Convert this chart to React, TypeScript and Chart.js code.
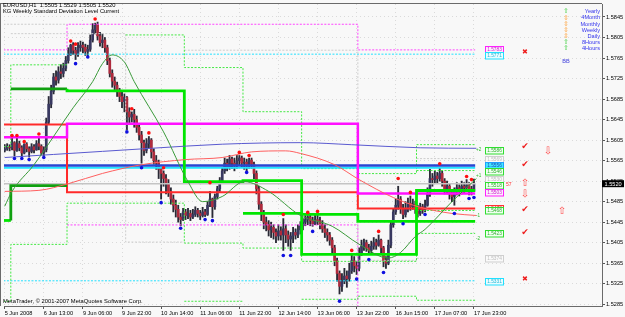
import { useEffect, useRef } from "react";
import { Chart, registerables } from "chart.js";

Chart.register(...registerables);

// Price values are stored in pips above 1.5000  (price = 1.5000 + pips / 10000)
const PRICE_BASE = 1.5;
const PIP = 0.0001;

// ---- axes ----
const xTickBars = [0, 16, 32, 48, 64, 80, 96, 112, 128, 144, 160, 176, 192];
const xTickLabels = ["5 Jun 2008", "6 Jun 13:00", "9 Jun 06:00", "9 Jun 22:00", "10 Jun 14:00", "11 Jun 06:00", "11 Jun 22:00", "12 Jun 14:00", "13 Jun 06:00", "13 Jun 22:00", "16 Jun 15:00", "17 Jun 07:00", "17 Jun 23:00"];
const yTickValues = [1.5285, 1.5325, 1.5365, 1.5405, 1.5445, 1.5485, 1.5525, 1.5565, 1.5605, 1.5645, 1.5685, 1.5725, 1.5765, 1.5805, 1.5845];

// ---- hourly candles (EURUSD H1, 5 Jun 21:00 .. 17 Jun 23:00) ----
const firstOpen = 585;
const closes = [588,592,590,600,585,598,590,580,597,588,583,592,586,598,593,580,586,640,675,700,728,722,738,735,745,760,772,790,780,772,785,790,786,778,782,800,820,830,808,795,800,785,760,735,720,712,700,690,680,688,660,650,655,645,630,615,600,585,598,605,582,565,560,548,540,530,520,505,490,478,470,455,450,465,458,462,455,460,468,462,458,465,460,478,490,475,495,510,525,545,560,552,568,560,555,565,570,560,562,555,566,558,540,510,480,462,445,440,430,435,425,418,428,420,432,420,412,418,425,420,430,438,445,450,455,448,442,450,448,440,432,425,420,410,395,370,345,320,330,340,335,350,370,360,355,385,398,405,395,390,398,405,400,410,395,370,365,400,440,465,478,490,472,460,470,482,475,480,470,462,475,468,478,500,530,528,535,530,540,525,510,515,500,495,505,512,506,515,512,518,510,505,520];
const highs = [596,598,596,610,602,611,603,594,598,600,592,598,596,604,612,596,592,648,690,712,735,740,748,752,755,768,785,792,795,786,795,798,796,792,790,810,832,833,835,815,812,805,790,765,742,728,718,706,698,695,690,668,660,665,652,636,622,605,608,612,608,588,575,566,552,545,538,528,512,498,488,478,462,472,470,472,468,470,475,472,468,474,470,485,505,492,500,515,532,552,570,568,575,572,570,575,575,574,570,568,570,570,562,545,515,485,468,455,448,445,440,432,440,436,452,440,428,425,435,432,440,446,452,458,458,460,455,460,460,455,448,440,432,425,415,400,375,350,345,355,350,365,384,378,368,395,410,412,410,402,408,415,412,420,412,398,378,410,448,472,490,515,495,480,485,492,496,490,486,478,482,480,488,512,548,540,545,542,550,545,530,525,520,508,512,522,518,525,522,528,522,515,529];
const lows = [582,585,584,586,574,583,584,573,578,582,572,580,580,585,586,576,573,582,636,668,695,712,716,725,728,740,755,770,772,762,768,778,775,770,768,778,796,812,800,788,785,776,752,728,708,700,690,680,668,660,625,635,640,630,620,605,560,575,580,590,570,558,548,530,490,515,500,495,480,465,455,445,438,448,450,452,448,452,456,455,450,455,456,458,475,454,470,490,505,520,540,545,548,550,545,550,556,552,548,545,550,550,530,500,470,448,432,428,418,415,412,405,410,410,390,405,398,390,405,412,415,422,430,438,440,438,437,440,440,432,425,415,408,400,385,360,330,305,310,325,318,330,345,348,343,350,380,390,388,382,385,392,392,398,385,358,355,362,395,435,460,470,462,452,455,465,468,470,462,455,458,462,465,476,495,515,522,520,525,515,500,500,490,485,478,498,496,500,502,506,498,498,505];

// ---- fractal dots ----
const fractalUpBars = [3,5,8,14,27,29,37,52,59,65,84,96,100,114,124,128,142,153,161,166,178,189,191];
const fractalUpPips = [614,614,602,617,798,792,841,666,619,551,522,581,575,460,464,466,390,427,530,503,559,534,528];
const fractalDownBars = [4,7,10,16,29,34,50,56,64,72,82,85,99,114,117,126,137,144,149,155,163,172,184,190,192];
const fractalDownPips = [569,569,567,571,754,767,621,551,483,433,450,448,542,380,380,427,291,334,372,347,442,460,462,491,493];

// ---- moving averages (read at sample bars) ----
const maGreenBars = [0,3,12,20,28,36,40,44,49,53,65,75,81,89,98,108,121,134,145,157,162,168,172,183,193];
const maGreenPips = [476,505,557,612,668,719,754,771,757,719,621,524,485,495,524,505,458,437,402,375,386,417,431,485,530];
const maRedBars = [0,14,26,40,56,74,89,101,115,121,135,145,159,170,183,193];
const maRedPips = [505,507,520,540,557,567,571,582,584,579,557,528,493,474,462,458];
const maBlueBars = [0,20,40,60,89,121,142,170,193];
const maBluePips = [571,577,583,589,597,600,596,590,589];

// ---- standard deviation levels ----
const dayStarts = [0, 3, 26, 50, 74, 98, 122, 145, 169];
const weekStarts = [0, 26, 145];
const monthStarts = [0];
const lastBarEnd = 193;

const dailyBandUpper = [null, 705.0, 701.1, 701.1, 524.2, 526.1, 460.0, 446.4, 506.7];
const dailyBandLower = [448.3, 516.4, null, null, null, 462.0, 382.2, 382.2, 446.4];
const dailyDevUpper = [592.2, 751.7, null, 810.0, 746.4, 660.3, 549.4, 539.7, 596.1];
const dailyDevLower = [290.8, 401.7, 482.0, 482.0, 404.2, 394.5, 368.6, 368.6, 423.1];
const dailyDevLower2 = [null, null, null, null, 290.8, null, 294.7, 300.6, 292.8];
const dailyInnerUpper = [null, null, null, null, null, null, null, null, 545.6];
const dailyInnerLower = [null, null, null, null, null, null, null, null, 467.8];
const greyLevelA = [830.8, 830.8, null, null, 780.2, 780.2, 780.2, 370.6, 374.5];
const greyLevelB = [null, 812.5, 812.5, 406.2, null, null, null, null, 568.9];
const weeklyCenter = [610.3, 636.9, 500.8];
const weeklyRed = [635.6, 503.4, 471.7];
const weeklyUpper = [780.8, 830.8, 780.8];
const weeklyLower = [null, 439.6, 200.0];
const monthlyBlue = [555.6];
const monthlyCyan = [551.0];
const monthlyCyanUpper = [772.5];
const monthlyCyanLower = [330.7];

// ---- right-hand labels ----
const levelBoxPips = [782.8, 771.0, 586.4, 568.9, 556.5, 545.6, 530.0, 518.3, 503.4, 471.7, 467.8, 423.1, 374.5, 330.7];
const levelBoxKinds = ["magenta", "cyan", "green", "grey", "cyanFill", "green", "grey", "green", "magenta", "red", "green", "green", "grey", "cyan"];
const signalPips = [776.9, 592.2, 557.2, 520.3, 498.9, 469.7, 425.0, 333.6];
const signalGlyphs = ["✖", "✔", "✔", "⇧", "⇩", "✔", "✔", "✖"];
const trendPips = [582.5, 465.8];
const trendGlyphs = ["⇩", "⇧"];
const legendNames = ["Yearly", "4Month", "Monthly", "Weekly", "Daily", "8Hours", "4Hours"];
const legendKinds = ["up", "flat", "flat", "flat", "flat", "up", "up"];

// ---- styles ----
const boxStyle: Record<string, { stroke: string; fill: string; text: string }> = {
  magenta: { stroke: "#ff20ff", fill: "#fbeefb", text: "#d020d0" },
  cyan: { stroke: "#20e0ff", fill: "#eafcff", text: "#20b8d8" },
  cyanFill: { stroke: "#20a0ff", fill: "#40e8ff", text: "#2040c0" },
  green: { stroke: "#30dd30", fill: "#f0fff0", text: "#30b030" },
  grey: { stroke: "#cfcfcf", fill: "#fafafa", text: "#bdbdbd" },
  red: { stroke: "#ff3030", fill: "#fff0f0", text: "#e02020" },
};
const FONT = '"Liberation Sans", Arial, sans-serif';
const DOT = [2, 1.5];

const toPrice = (v: number | null) => (v == null ? null : PRICE_BASE + v * PIP);
const fmt = (p: number) => p.toFixed(4);

function stepSeries(starts: number[], values: (number | null)[]) {
  const pts: { x: number; y: number | null }[] = [];
  values.forEach((v, k) => {
    const x0 = starts[k] - 0.5;
    const x1 = (k + 1 < starts.length ? starts[k + 1] : lastBarEnd) - 0.5;
    const p = toPrice(v);
    pts.push({ x: x0, y: p }, { x: x1, y: p });
  });
  return pts;
}

function sampled(bars: number[], pips: number[]) {
  return bars.map((b, k) => ({ x: b, y: toPrice(pips[k]) }));
}

export default function App() {
  const ref = useRef<HTMLCanvasElement>(null);

  useEffect(() => {
    const canvas = ref.current;
    if (!canvas) return;
    const opens = closes.map((_, i) => (i === 0 ? firstOpen : closes[i - 1]));

    const stepLine = (data: any, color: string, width: number, dash: number[] | undefined, order: number, extra: any = {}) => ({
      type: "line",
      data,
      borderColor: color,
      borderWidth: width,
      borderDash: dash || [],
      pointRadius: 0,
      fill: false,
      spanGaps: false,
      tension: 0,
      order,
      ...extra,
    });

    const datasets: any[] = [
      {
        type: "line", data: sampled(fractalUpBars, fractalUpPips), showLine: false,
        pointRadius: 1.8, pointBorderWidth: 0, pointBackgroundColor: "#ff1010", order: 0,
      },
      {
        type: "line", data: sampled(fractalDownBars, fractalDownPips), showLine: false,
        pointRadius: 1.8, pointBorderWidth: 0, pointBackgroundColor: "#1010e0", order: 0,
      },
      stepLine(sampled(maGreenBars, maGreenPips), "#3a9a3a", 1, undefined, 1, { cubicInterpolationMode: "monotone" }),
      stepLine(sampled(maRedBars, maRedPips), "#ff6060", 1, undefined, 1, { cubicInterpolationMode: "monotone" }),
      stepLine(sampled(maBlueBars, maBluePips), "#5a5ad0", 1, undefined, 1, { cubicInterpolationMode: "monotone" }),
      stepLine(stepSeries(dayStarts, dailyBandUpper), "#00e600", 2.8, undefined, 2, {
        segment: { borderColor: (c: any) => (c.p0.parsed.x < 25 ? "#10a010" : undefined) },
      }),
      stepLine(stepSeries(dayStarts, dailyBandLower), "#00e600", 2.8, undefined, 2, {
        segment: { borderColor: (c: any) => (c.p0.parsed.x < 25 && c.p0.parsed.x > 1 ? "#10a010" : undefined) },
      }),
      stepLine(stepSeries(weekStarts, weeklyCenter), "#ff10ff", 2.5, undefined, 2),
      stepLine(stepSeries(weekStarts, weeklyRed), "#ff2a2a", 2, undefined, 2),
      stepLine(stepSeries(monthStarts, monthlyBlue), "#2846d2", 2.6, undefined, 2),
      stepLine(stepSeries(monthStarts, monthlyCyan), "#20e4ff", 2, undefined, 2),
      stepLine(stepSeries(dayStarts, dailyDevUpper), "#44e844", 1, DOT, 3),
      stepLine(stepSeries(dayStarts, dailyDevLower), "#44e844", 1, DOT, 3),
      stepLine(stepSeries(dayStarts, dailyDevLower2), "#44e844", 1, DOT, 3),
      stepLine(stepSeries(dayStarts, dailyInnerUpper), "#44e844", 1, DOT, 3),
      stepLine(stepSeries(dayStarts, dailyInnerLower), "#44e844", 1, DOT, 3),
      stepLine(stepSeries(dayStarts, greyLevelA), "#cdcdcd", 1, DOT, 3),
      stepLine(stepSeries(dayStarts, greyLevelB), "#cdcdcd", 1, DOT, 3),
      stepLine(stepSeries(weekStarts, weeklyUpper), "#ff44ff", 1, DOT, 3),
      stepLine(stepSeries(weekStarts, weeklyLower), "#ff44ff", 1, DOT, 3),
      stepLine(stepSeries(monthStarts, monthlyCyanUpper), "#22e0ff", 1, DOT, 3),
      stepLine(stepSeries(monthStarts, monthlyCyanLower), "#22e0ff", 1, DOT, 3),
      stepLine(stepSeries(monthStarts, [closes[closes.length - 1]]), "#c4c4c4", 1.4, undefined, 4),
      {
        type: "bar",
        data: closes.map((c, i) => ({ x: i, y: [toPrice(opens[i]), toPrice(c)] })),
        backgroundColor: closes.map((c, i) => (c >= opens[i] ? "#383860" : "#b02a3c")),
        borderWidth: 0, barThickness: 2, minBarLength: 1, grouped: false, order: 5,
      },
      {
        type: "bar",
        data: closes.map((_, i) => ({ x: i, y: [toPrice(lows[i]), toPrice(highs[i])] })),
        backgroundColor: "#2a2a36",
        borderWidth: 0, barThickness: 1.2, grouped: false, order: 6,
      },
    ];

    const background = {
      id: "background",
      beforeDraw(chart: any) {
        const ctx = chart.ctx;
        ctx.save();
        ctx.fillStyle = "#f8f8f8";
        ctx.fillRect(0, 0, chart.width, chart.height);
        ctx.restore();
      },
    };

    const annotate = {
      id: "annotate",
      afterDraw(chart: any) {
        const ctx = chart.ctx;
        const a = chart.chartArea;
        const y = chart.scales.y;
        const py = (pips: number) => y.getPixelForValue(PRICE_BASE + pips * PIP);
        ctx.save();
        // frame
        ctx.strokeStyle = "#6a6a6a";
        ctx.lineWidth = 1;
        ctx.beginPath();
        ctx.moveTo(0, a.top - 0.5);
        ctx.lineTo(a.right, a.top - 0.5);
        ctx.moveTo(0.5, a.top);
        ctx.lineTo(0.5, a.bottom);
        ctx.stroke();

        // title
        const n = closes.length - 1;
        ctx.fillStyle = "#000";
        ctx.textBaseline = "top";
        ctx.textAlign = "left";
        ctx.font = `5.8px ${FONT}`;
        ctx.fillText(`EURUSD,H1  ${fmt(toPrice(opens[n])!)} ${fmt(toPrice(highs[n])!)} ${fmt(toPrice(lows[n])!)} ${fmt(toPrice(closes[n])!)}`, 3, 2);
        ctx.fillText("KG Weekly Standard Deviation Level Current", 3, 8.6);
        ctx.fillText("MetaTrader, © 2001-2007 MetaQuotes Software Corp.", 3, 298);

        // level boxes
        ctx.textBaseline = "middle";
        levelBoxPips.forEach((pips, k) => {
          const st = boxStyle[levelBoxKinds[k]];
          const yy = Math.round(py(pips)) + 0.5;
          ctx.fillStyle = st.fill;
          ctx.fillRect(485, yy - 3, 19, 6.5);
          ctx.strokeStyle = st.stroke;
          ctx.lineWidth = 1;
          ctx.strokeRect(485.5, yy - 3, 18, 6.5);
          ctx.fillStyle = st.text;
          ctx.font = `4.8px ${FONT}`;
          ctx.textAlign = "center";
          ctx.fillText(fmt(PRICE_BASE + pips * PIP), 494.5, yy + 0.3);
        });
        ctx.fillStyle = "#ff3030";
        ctx.textAlign = "left";
        ctx.font = `5px ${FONT}`;
        ctx.fillText("57", 506, py(518.3));

        // sigma labels
        ctx.fillStyle = "#30c030";
        ctx.font = `4.6px ${FONT}`;
        const sig: [number | null, string][] = [
          [dailyDevUpper[8], "+2"], [dailyInnerUpper[8], "+1"], [dailyInnerLower[8], "-1"], [dailyDevLower[8], "-2"],
        ];
        sig.forEach(([p, t]) => { if (p != null) ctx.fillText(t, 476, py(p) + 5); });

        // signal column
        ctx.textAlign = "center";
        signalPips.forEach((pips, k) => {
          const g = signalGlyphs[k];
          if (g === "✔") { ctx.font = `bold 9px "DejaVu Sans"`; ctx.fillStyle = "#ee1a1a"; }
          else if (g === "✖") { ctx.font = `7px "DejaVu Sans"`; ctx.fillStyle = "#ee1a1a"; }
          else { ctx.font = `10px "DejaVu Sans"`; ctx.fillStyle = "#ff4a4a"; }
          ctx.fillText(g, 525, py(pips));
        });
        const trendX = [548, 562];
        ctx.font = `10px "DejaVu Sans"`;
        ctx.fillStyle = "#ff4a4a";
        trendPips.forEach((pips, k) => ctx.fillText(trendGlyphs[k], trendX[k], py(pips)));

        // legend
        legendNames.forEach((name, k) => {
          const yy = 11.7 + k * 6.15;
          ctx.textAlign = "right";
          ctx.font = `5.6px ${FONT}`;
          ctx.fillStyle = "#3434ee";
          ctx.fillText(name, 600, yy);
          ctx.textAlign = "center";
          ctx.font = `6.5px "DejaVu Sans"`;
          ctx.fillStyle = legendKinds[k] === "up" ? "#33cc33" : "#ff9a2a";
          ctx.fillText(legendKinds[k] === "up" ? "⇧" : "⇳", 566, yy);
        });
        ctx.font = `5.6px ${FONT}`;
        ctx.fillStyle = "#4444dd";
        ctx.fillText("BB", 566, 61);

        // current price tag
        const cy = py(closes[n]);
        ctx.fillStyle = "#000";
        ctx.fillRect(a.right, cy - 3.5, 22, 7);
        ctx.fillStyle = "#fff";
        ctx.textAlign = "left";
        ctx.font = `5.6px ${FONT}`;
        ctx.fillText(fmt(toPrice(closes[n])!), a.right + 2.5, cy + 0.3);
        ctx.restore();
      },
    };

    const chart = new Chart(canvas, {
      type: "line",
      data: { datasets },
      options: {
        responsive: false,
        maintainAspectRatio: false,
        animation: false,
        events: [],
        layout: { padding: { left: 1, top: 2, right: 0, bottom: 0 } },
        plugins: { legend: { display: false }, tooltip: { enabled: false } },
        elements: { point: { radius: 0, hitRadius: 0 } },
        scales: {
          x: {
            type: "linear",
            offset: false,
            bounds: "data",
            min: -0.285,
            max: 244.4,
            afterBuildTicks: (s: any) => { s.ticks = xTickBars.map((v) => ({ value: v })); },
            afterFit: (s: any) => { s.height = 11; s.paddingLeft = 0; s.paddingRight = 0; },
            ticks: {
              autoSkip: false, maxRotation: 0, minRotation: 0, align: "start", padding: 1,
              color: "#000", font: { family: FONT, size: 5.6 },
              callback: (_v: any, i: number) => xTickLabels[i],
            },
            grid: { offset: false, color: "#dadada", tickLength: 3, tickColor: "#555" },
            border: { display: true, color: "#6a6a6a", width: 1, dash: [1, 3] },
          },
          y: {
            type: "linear",
            position: "right",
            offset: false,
            bounds: "data",
            beginAtZero: false,
            min: 1.528158,
            max: 1.587028,
            afterBuildTicks: (s: any) => { s.ticks = yTickValues.map((v) => ({ value: v })); },
            afterFit: (s: any) => { s.width = 23; s.paddingTop = 0; s.paddingBottom = 0; },
            ticks: {
              autoSkip: false, padding: 1, color: "#000", font: { family: FONT, size: 5.6 },
              callback: (v: any) => Number(v).toFixed(4),
            },
            grid: { color: "#dadada", tickLength: 3, tickColor: "#555" },
            border: { display: true, color: "#6a6a6a", width: 1, dash: [1, 3] },
          },
        },
      } as any,
      plugins: [background, annotate],
    } as any);

    return () => chart.destroy();
  }, []);

  return (
    <div style={{ position: "fixed", left: 0, top: 0, width: 625, height: 317, background: "#f8f8f8" }}>
      <canvas ref={ref} width={625} height={317} style={{ display: "block", width: 625, height: 317 }} />
    </div>
  );
}
